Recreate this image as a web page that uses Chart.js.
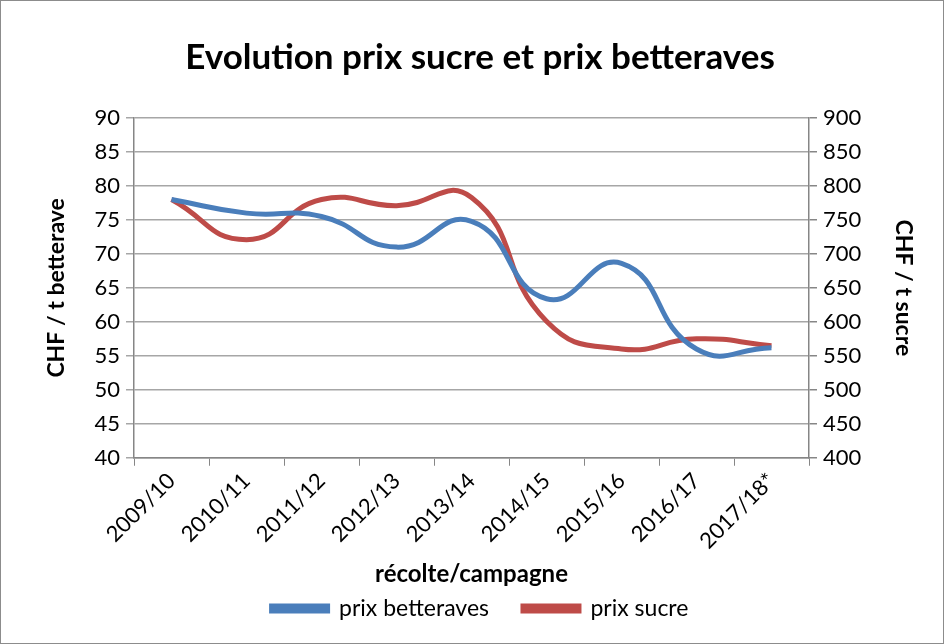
<!DOCTYPE html>
<html>
<head>
<meta charset="utf-8">
<script src="https://cdn.jsdelivr.net/npm/chart.js@4/dist/chart.umd.min.js"></script>
<style>
  html, body { margin: 0; padding: 0; background: #fff; }
  #wrap { position: relative; width: 942px; height: 642px; border: 1px solid #8c8c8c; }
</style>
</head>
<body>
<div id="wrap"><canvas id="chart" width="942" height="642"></canvas></div>
<script>
// Data
const campagnes = ['2009/10', '2010/11', '2011/12', '2012/13', '2013/14', '2014/15', '2015/16', '2016/17', '2017/18*'];
const prixBetteraves = [78, 76, 75.5, 71, 74.8, 63.4, 68.6, 56, 56.2];   // CHF / t betterave (left)
const prixSucre = [780, 721, 780, 771, 783, 601, 560, 575, 565];        // CHF / t sucre (right)

const FONT = "Lato, 'Open Sans', sans-serif";
const BLUE = '#4a7ebb';
const RED = '#be4b48';
const AXIS = '#868686';
const GRID = '#a6a6a6';

// legend items sit "padding" below the legend top; raise the legend top so the
// wide horizontal gap between items does not push the plot up
const legendShift = {
    id: 'legendShift',
    afterLayout(chart) {
        chart.legend.top -= 26;
    }
};

new Chart(document.getElementById('chart'), {
    type: 'line',
    data: {
        labels: campagnes,
        datasets: [
            {
                label: 'prix betteraves',
                data: prixBetteraves,
                yAxisID: 'y',
                borderColor: BLUE,
                backgroundColor: BLUE,
                borderWidth: 5,
                pointRadius: 0,
                tension: 0.5,
                fill: false
            },
            {
                label: 'prix sucre',
                data: prixSucre,
                yAxisID: 'y1',
                borderColor: RED,
                backgroundColor: RED,
                borderWidth: 5,
                pointRadius: 0,
                tension: 0.5,
                fill: false
            }
        ]
    },
    plugins: [legendShift],
    options: {
        responsive: false,
        animation: false,
        layout: { padding: { top: 10, left: 40, right: 24, bottom: 2 } },
        plugins: {
            title: {
                display: true,
                text: 'Evolution prix sucre et prix betteraves',
                color: '#000',
                font: { family: FONT, size: 35, weight: 'bold' },
                padding: { top: 26, bottom: 39 }
            },
            legend: {
                position: 'bottom',
                maxHeight: 52,
                labels: {
                    color: '#000',
                    font: { family: FONT, size: 23 },
                    boxWidth: 56,
                    boxHeight: 5,
                    padding: 34
                }
            },
            tooltip: { enabled: false }
        },
        scales: {
            x: {
                offset: true,
                grid: { display: true, offset: true, drawOnChartArea: false, color: AXIS, tickLength: 8 },
                border: { color: AXIS, width: 1.5 },
                ticks: { color: '#000', font: { family: FONT, size: 22 }, minRotation: 45, maxRotation: 45, padding: 2 },
                title: {
                    display: true,
                    text: 'récolte/campagne',
                    color: '#000',
                    font: { family: FONT, size: 24, weight: 'bold' },
                    padding: { top: 4, bottom: 0 }
                }
            },
            y: {
                position: 'left',
                min: 40,
                max: 90,
                afterFit: (s) => { s.width = 93; },
                grid: { color: GRID, lineWidth: 1.5, tickLength: 8 },
                border: { color: AXIS, width: 1.5 },
                ticks: { stepSize: 5, color: '#000', font: { family: FONT, size: 22 }, padding: 6 },
                title: {
                    display: true,
                    text: 'CHF / t betterave',
                    color: '#000',
                    font: { family: FONT, size: 23, weight: 'bold' },
                    padding: { top: 2, bottom: 0 }
                }
            },
            y1: {
                position: 'right',
                min: 400,
                max: 900,
                afterFit: (s) => { s.width = 110; },
                grid: { drawOnChartArea: false, color: AXIS, lineWidth: 1.5, tickLength: 8 },
                border: { color: AXIS, width: 1.5 },
                ticks: { stepSize: 50, color: '#000', font: { family: FONT, size: 22 }, padding: 6 },
                title: {
                    display: true,
                    text: 'CHF / t sucre',
                    color: '#000',
                    font: { family: FONT, size: 23, weight: 'bold' },
                    padding: { top: 2, bottom: 0 }
                }
            }
        }
    }
});
</script>
</body>
</html>
